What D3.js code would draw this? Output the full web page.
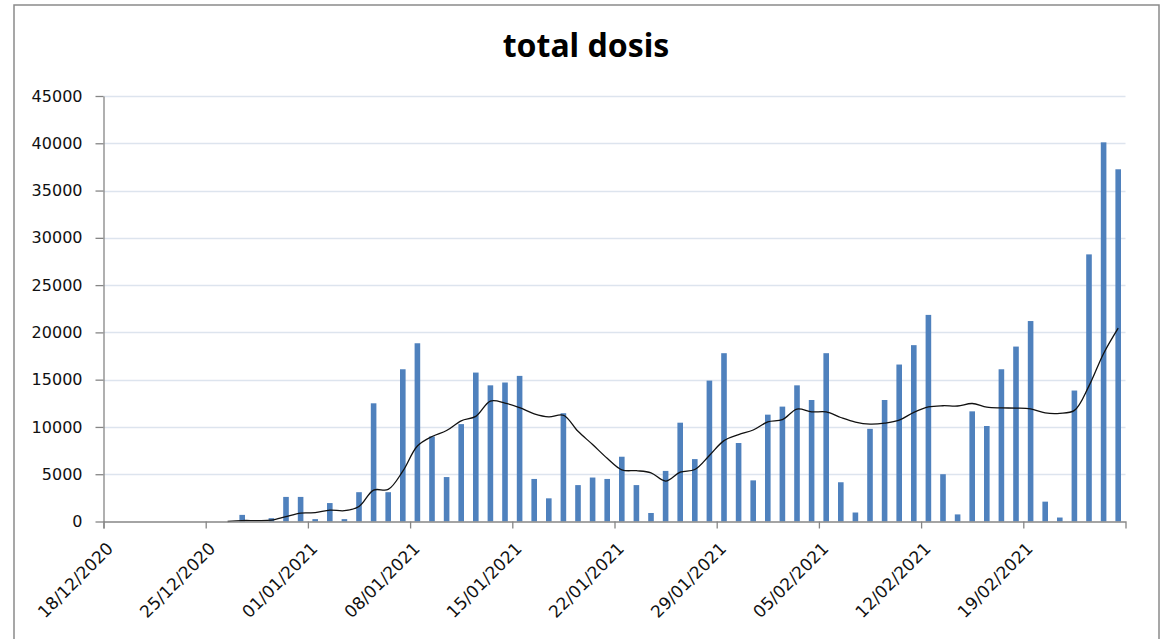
<!DOCTYPE html>
<html>
<head>
<meta charset="utf-8">
<script src="https://cdn.jsdelivr.net/npm/d3@7"></script>
<style>
	body { margin: 0; background: #fff; }
</style>
</head>
<body>
<div class="canvas"></div>
<script>
var width = 1164,
	height = 639;

// daily doses, one value per day from 18/12/2020
var start_day = new Date(2020, 11, 18);
var end_day = new Date(2021, 1, 26);
var dosis = [
	0, 0, 0, 0, 0, 0, 0, 0, 0, 700,
	0, 350, 2600, 2600, 250, 1950, 250, 3100, 12500, 3100,
	16100, 18850, 9000, 4700, 10300, 15750, 14400, 14700, 15400, 4500,
	2450, 11450, 3850, 4650, 4500, 6850, 3850, 900, 5350, 10450,
	6600, 14900, 17800, 8300, 4350, 11300, 12150, 14400, 12850, 17800,
	4150, 950, 9800, 12850, 16600, 18650, 21850, 5000, 750, 11650,
	10100, 16100, 18500, 21200, 2100, 420, 13850, 28250, 40100, 37250
];
var y_ticks = [0, 5000, 10000, 15000, 20000, 25000, 30000, 35000, 40000, 45000];
var period = 7; // moving average trendline
var title = "total dosis";

var days = d3.timeDay.range(start_day, end_day);
var x_ticks = days.filter(function(d, i) { return i % 7 === 0; });

var canvas = d3.select(".canvas")
	.append("svg")
	.attr("width", width)
	.attr("height", height);

canvas.append("rect")
	.attr("x", 14)
	.attr("y", 5)
	.attr("width", 1145)
	.attr("height", 650)
	.attr("fill", "white")
	.attr("stroke", "#8a8a8a")
	.attr("stroke-width", 1.5);

canvas.append("text")
	.attr("x", 586)
	.attr("y", 57)
	.attr("text-anchor", "middle")
	.attr("font-family", "Noto Sans, sans-serif")
	.attr("font-weight", "bold")
	.attr("font-size", 32)
	.attr("fill", "black")
	.text(title);

var scale_x = d3.scaleTime()
	.domain([start_day, end_day])
	.range([103.5, 1125.5]);

var scale_y = d3.scaleLinear()
	.domain([0, 45000])
	.range([521.5, 96]);

/* ---------- grid ---------- */
canvas.append("g")
	.selectAll("line")
	.data(y_ticks.slice(1))
	.enter()
	.append("line")
	.attr("x1", 103.5)
	.attr("x2", 1125.5)
	.attr("y1", function(d) { return Math.round(scale_y(d)) + 0.5; })
	.attr("y2", function(d) { return Math.round(scale_y(d)) + 0.5; })
	.attr("stroke", "#dde4ee")
	.attr("stroke-width", 1.5);

/* ---------- bars ---------- */
var step = scale_x(days[1]) - scale_x(days[0]);
var bar_w = 5.6;

canvas.append("g")
	.selectAll("rect")
	.data(dosis)
	.enter()
	.append("rect")
	.attr("x", function(d, i) { return scale_x(days[i]) + (step - bar_w) / 2; })
	.attr("y", function(d) { return scale_y(d); })
	.attr("width", bar_w)
	.attr("height", function(d) { return scale_y(0) - scale_y(d); })
	.attr("fill", "#4f81bd");

/* ---------- moving average ---------- */
var avg = dosis.map(function(d, i) {
	return { i: i, v: d3.mean(dosis.slice(Math.max(0, i - period + 1), i + 1)) };
}).filter(function(d) { return d.i >= 8; });

var line = d3.line()
	.x(function(d) { return scale_x(days[d.i]) + step / 2; })
	.y(function(d) { return scale_y(d.v); })
	.curve(d3.curveCatmullRom);

canvas.append("path")
	.datum(avg)
	.attr("d", line)
	.attr("fill", "none")
	.attr("stroke", "#111")
	.attr("stroke-width", 1.3);

/* ---------- axis ---------- */
var axis_y = canvas.append("g")
	.attr("transform", "translate(103.5, 0)")
	.call(d3.axisLeft(scale_y)
		.tickValues(y_ticks)
		.tickSize(8)
		.tickSizeOuter(0)
		.tickPadding(13)
		.tickFormat(d3.format("d")));

var axis_x = canvas.append("g")
	.attr("transform", "translate(0, 521.5)")
	.call(d3.axisBottom(scale_x)
		.tickValues(x_ticks)
		.tickSize(7)
		.tickSizeOuter(7)
		.tickFormat(d3.timeFormat("%d/%m/%Y")));

canvas.selectAll(".domain, .tick line")
	.attr("stroke", "#868686")
	.attr("stroke-width", 1.3);

canvas.selectAll(".tick text")
	.attr("font-family", "DejaVu Sans, sans-serif")
	.attr("font-size", 16)
	.attr("fill", "#111");

axis_x.selectAll("text")
	.attr("x", 0)
	.attr("y", 0)
	.attr("dy", "0.35em")
	.attr("font-size", 17)
	.attr("text-anchor", "end")
	.attr("transform", "translate(6, 24) rotate(-45)");
</script>
</body>
</html>
